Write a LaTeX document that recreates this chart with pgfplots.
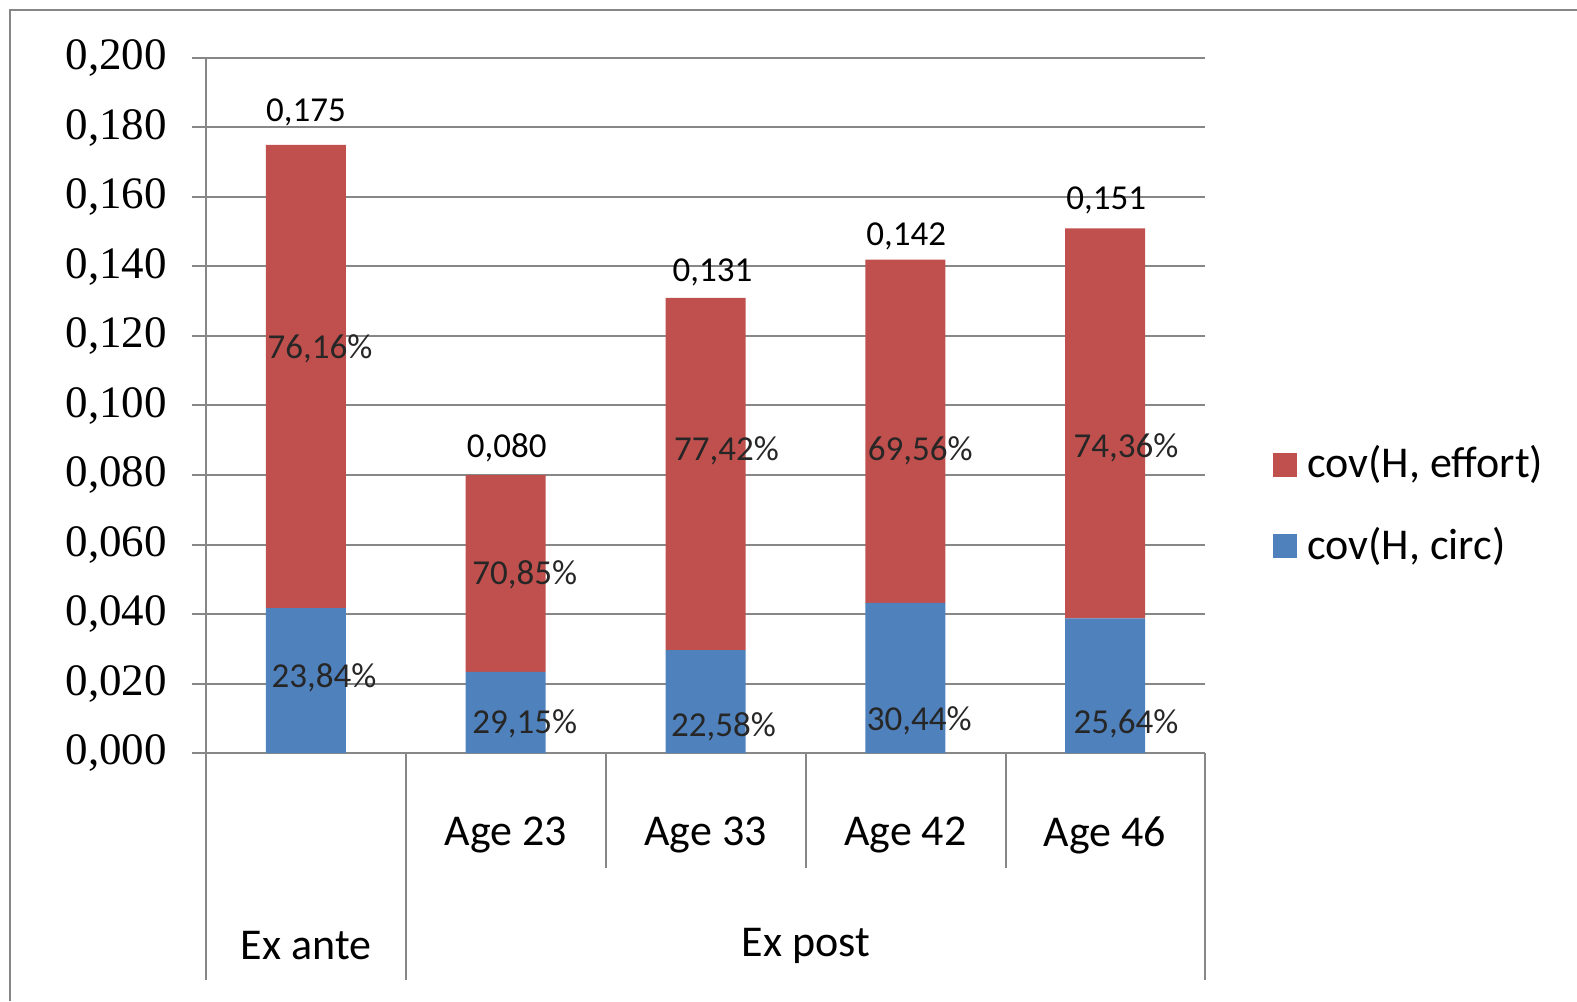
\documentclass[border=0pt]{standalone}
\usepackage{pgfplots}
\pgfplotsset{compat=1.18}
\usepackage{fontspec}
\setmainfont{Carlito}
\newfontfamily\serifnum{Liberation Serif}

\definecolor{effortred}{HTML}{C0504D}
\definecolor{circblue}{HTML}{4F81BD}
\definecolor{gridgray}{HTML}{878787}

\tikzset{
  totlbl/.style={font=\fontsize{17.5}{20}\selectfont, text=black},
  pctlbl/.style={font=\fontsize{17.5}{20}\selectfont, text=black!85},
  catlbl/.style={font=\fontsize{22}{26}\selectfont},
}

\begin{document}
\begin{tikzpicture}[x=1pt,y=1pt]
\useasboundingbox (0,0) rectangle (788.5,500.5);
% chart area frame (top and left edges)
\draw[gridgray, line width=1pt] (5,0) -- (5,495.5) -- (788.5,495.5);

\begin{axis}[
  at={(103pt,124pt)}, anchor=south west,
  scale only axis, width=499.5pt, height=347.5pt,
  xmin=-0.5, xmax=4.5, ymin=0, ymax=0.2,
  ybar stacked, bar width=40pt,
  axis x line*=bottom, axis y line*=left,
  axis line style={gridgray, line width=1pt},
  ytick={0,0.02,0.04,0.06,0.08,0.1,0.12,0.14,0.16,0.18,0.2},
  scaled y ticks=false,
  ymajorgrids, grid style={gridgray, line width=1pt},
  tick align=outside, ytick pos=left, major tick length=7pt,
  ytick style={gridgray, line width=1pt},
  yticklabel style={font=\serifnum\fontsize{22.5}{25}\selectfont, xshift=-9pt},
  y tick label style={/pgf/number format/fixed, /pgf/number format/fixed zerofill,
    /pgf/number format/precision=3, /pgf/number format/use comma},
  /pgf/number format/assume math mode=true,
  xtick={1,2,3,4}, xticklabels={Age 23,Age 33,Age 42,Age 46},
  xtick style={draw=none},
  xticklabel style={catlbl, anchor=center, yshift=-34pt},
  clip=false,
]
% cov(H, circ) share of each total
\addplot[fill=circblue, draw=none] coordinates
  {(0,0.04172) (1,0.02332) (2,0.02958) (3,0.04322) (4,0.03872)};
% cov(H, effort) share of each total
\addplot[fill=effortred, draw=none] coordinates
  {(0,0.13328) (1,0.05668) (2,0.10142) (3,0.09878) (4,0.11228)};

% anchor points for the value labels
\coordinate (t0) at (axis cs:0,0.175);
\coordinate (t1) at (axis cs:1.005,0.080);
\coordinate (t2) at (axis cs:2.035,0.131);
\coordinate (t3) at (axis cs:3.005,0.142);
\coordinate (t4) at (axis cs:4.005,0.151);
\coordinate (e0) at (axis cs:0.07,0.1163);
\coordinate (c0) at (axis cs:0.09,0.0216);
\coordinate (e1) at (axis cs:1.095,0.0512);
\coordinate (c1) at (axis cs:1.095,0.0083);
\coordinate (e2) at (axis cs:2.105,0.0869);
\coordinate (c2) at (axis cs:2.09,0.0075);
\coordinate (e3) at (axis cs:3.075,0.0869);
\coordinate (c3) at (axis cs:3.07,0.0092);
\coordinate (e4) at (axis cs:4.105,0.0878);
\coordinate (c4) at (axis cs:4.105,0.0083);
\end{axis}

% totals above the bars
\node[totlbl, yshift=16pt] at (t0) {0,175};
\node[totlbl, yshift=13.5pt] at (t1) {0,080};
\node[totlbl, yshift=12.5pt] at (t2) {0,131};
\node[totlbl, yshift=11.5pt] at (t3) {0,142};
\node[totlbl, yshift=14pt] at (t4) {0,151};

% shares inside the bars
\node[pctlbl] at (e0) {76,16\%};
\node[pctlbl] at (c0) {23,84\%};
\node[pctlbl] at (e1) {70,85\%};
\node[pctlbl] at (c1) {29,15\%};
\node[pctlbl] at (e2) {77,42\%};
\node[pctlbl] at (c2) {22,58\%};
\node[pctlbl] at (e3) {69,56\%};
\node[pctlbl] at (c3) {30,44\%};
\node[pctlbl] at (e4) {74,36\%};
\node[pctlbl] at (c4) {25,64\%};

% two-level category separators
\begin{scope}[gridgray, line width=1pt]
\draw (103,124) -- (103,10.5);
\draw (203,124) -- (203,10.5);
\draw (602.5,124) -- (602.5,10.5);
\draw (303,124) -- (303,66.5);
\draw (403,124) -- (403,66.5);
\draw (503,124) -- (503,66.5);
\end{scope}
\node[catlbl] at (153,27.5) {Ex ante};
\node[catlbl] at (403,27.5) {Ex post};

% legend
\fill[effortred] (636.5,262) rectangle (648.5,274);
\node[anchor=west, font=\fontsize{22}{26}\selectfont, inner sep=0pt] at (653.5,268.5) {cov(H, effort)};
\fill[circblue] (636.5,221.5) rectangle (648.5,233.5);
\node[anchor=west, font=\fontsize{22}{26}\selectfont, inner sep=0pt] at (653.5,227.5) {cov(H, circ)};
\end{tikzpicture}
\end{document}
